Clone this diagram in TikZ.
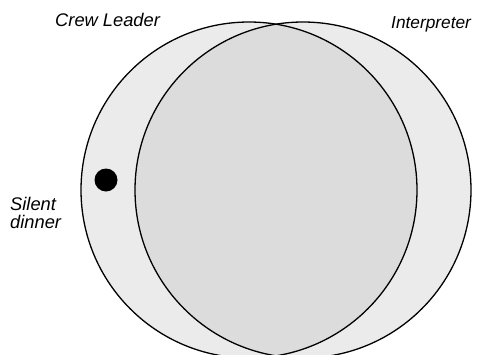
\documentclass[tikz,border=0pt]{standalone}
\usepackage{fontspec}
\setmainfont{Liberation Sans}
\definecolor{outerfill}{HTML}{EBEBEB}
\definecolor{innerfill}{HTML}{DCDCDC}
\begin{document}
\begin{tikzpicture}[x=1pt,y=-1pt,
  setline/.style={draw=black,line width=1.3pt},
  lbl/.style={inner sep=0pt,anchor=base west,font=\fontsize{18.3}{19}\selectfont\itshape}]
\useasboundingbox (0,0) rectangle (477,354);
\begin{scope}
\clip (0,0) rectangle (477,354);
\fill[outerfill] (249,190) circle[radius=168];
\fill[outerfill] (303,190) circle[radius=168];
\begin{scope}
\clip (249,190) circle[radius=168];
\fill[innerfill] (303,190) circle[radius=168];
\end{scope}
\draw[setline] (249,190) circle[radius=168];
\draw[setline] (303,190) circle[radius=168];
\end{scope}
\node[circle,fill=black,minimum size=23pt,inner sep=0pt] (dot) at (106,180) {};
\node[lbl] (crew) at (55,26) {Crew Leader};
\node[lbl,font=\fontsize{17.3}{19}\selectfont\itshape] (interp) at (391,28) {Interpreter};
\node[lbl] (silent) at (10,210) {Silent};
\node[lbl] (dinner) at (10,228) {dinner};
\end{tikzpicture}
\end{document}
